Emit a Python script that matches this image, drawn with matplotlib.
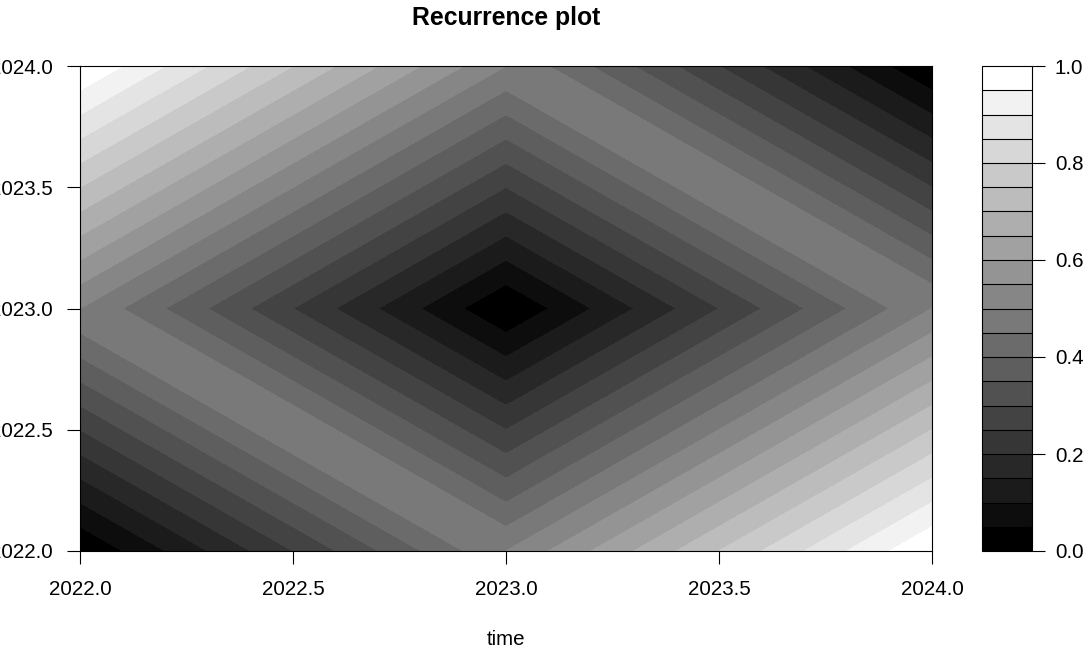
import numpy as np
import matplotlib
matplotlib.use("Agg")
import matplotlib.pyplot as plt
import matplotlib.tri as mtri

plt.rcParams['font.family'] = ['Liberation Sans', 'DejaVu Sans']

# time points of the series (both axes)
times = [2022.0, 2023.0, 2024.0]
# recurrence (distance) matrix, rows = y, cols = x
recurrence = [
    [0.0, 0.5, 1.0],
    [0.5, 0.0, 0.5],
    [1.0, 0.5, 0.0],
]
levels = [i / 20 for i in range(21)]
tick_vals = [2022.0, 2022.5, 2023.0, 2023.5, 2024.0]
cbar_ticks = [0.0, 0.2, 0.4, 0.6, 0.8, 1.0]

# grey ramp, black -> white, one colour per band
greys = [str(i / 19) for i in range(20)]

n = len(times)
X, Y = np.meshgrid(times, times)
Z = np.array(recurrence)

# split each grid cell into two triangles like R's filled.contour does
triangles = []
for j in range(n - 1):
    for i in range(n - 1):
        a = j * n + i
        b = j * n + i + 1
        c = (j + 1) * n + i
        d = (j + 1) * n + i + 1
        triangles.append([a, b, c])
        triangles.append([b, d, c])
tri = mtri.Triangulation(X.ravel(), Y.ravel(), triangles)

W, H = 1090, 650
fig = plt.figure(figsize=(W / 100, H / 100), dpi=100)

# main panel
ax = fig.add_axes([80 / W, (H - 551) / H, 852 / W, 485 / H])
cs = ax.tricontourf(tri, Z.ravel(), levels=levels, colors=greys, antialiased=False)
ax.set_xlim(2022, 2024)
ax.set_ylim(2022, 2024)
ax.set_xticks(tick_vals)
ax.set_yticks(tick_vals)
ax.set_xticklabels([f"{v:.1f}" for v in tick_vals])
ax.set_yticklabels([f"{v:.1f}" for v in tick_vals])
ax.tick_params(axis='both', direction='out', length=9.4, width=0.8, labelsize=14.8, color='black')
ax.tick_params(axis='x', pad=11.5)
ax.tick_params(axis='y', pad=10)
for sp in ax.spines.values():
    sp.set_linewidth(0.8)
ax.set_title("Recurrence plot", fontsize=17.8, fontweight='bold', y=1.0845, va='baseline', pad=0)
ax.set_xlabel("time", fontsize=14.8)
ax.xaxis.set_label_coords(0.5, -0.163)

# colour key
cax = fig.add_axes([982 / W, (H - 551) / H, 50 / W, 485 / H])
cbar = fig.colorbar(cs, cax=cax, ticks=cbar_ticks, drawedges=True)
cbar.ax.set_yticklabels([f"{v:.1f}" for v in cbar_ticks])
cbar.ax.tick_params(direction='out', length=9.4, width=0.8, labelsize=14.8, pad=7)
cbar.outline.set_linewidth(0.8)
cbar.dividers.set_linewidth(0.8)
cbar.dividers.set_color('black')

plt.savefig("out.png", dpi=100)
plt.close()
